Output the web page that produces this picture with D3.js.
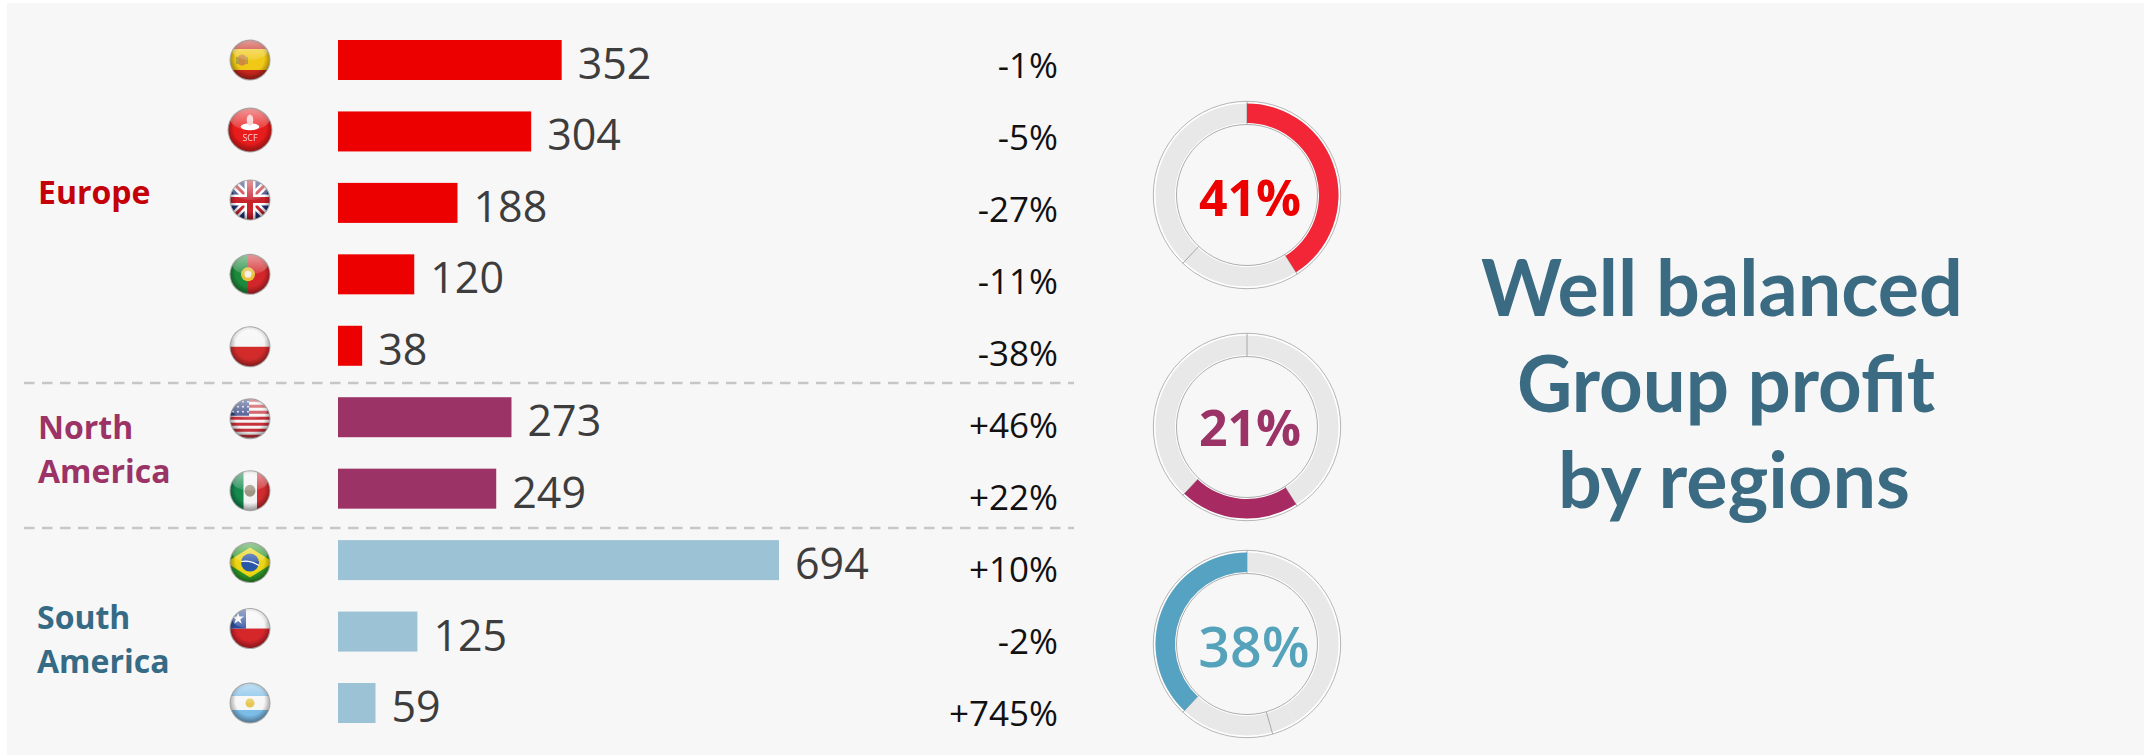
<!DOCTYPE html>
<html><head><meta charset="utf-8">
<script src="https://cdn.jsdelivr.net/npm/d3@7"></script>
<style>html,body{margin:0;padding:0;background:#fff;overflow:hidden}svg{display:block}text{font-family:"Open Sans",sans-serif}</style>
</head><body><svg id="c" width="2144" height="755"></svg>
<script>
// ---- data ----
const countries = ["Spain","SCF","UK","Portugal","Poland","USA","Mexico","Brazil","Chile","Argentina"];
const regionOf  = ["Europe","Europe","Europe","Europe","Europe","North America","North America","South America","South America","South America"];
const profits   = [352,304,188,120,38,273,249,694,125,59];
const changes   = ["-1%","-5%","-27%","-11%","-38%","+46%","+22%","+10%","-2%","+745%"];
const regions   = ["Europe","North America","South America"];
const regionShares = [41,21,38];
const titleLines = ["Well balanced","Group profit","by regions"];

// ---- styles ----
const barColor  = {"Europe":"#ec0000","North America":"#9c3366","South America":"#9cc3d5"};
const nameColor = {"Europe":"#c40008","North America":"#9c3366","South America":"#366b85"};
const arcColor  = {"Europe":"#f32638","North America":"#a82a62","South America":"#55a2c2"};
const pctColor  = {"Europe":"#ec0000","North America":"#9c3366","South America":"#55a3bb"};

const svg = d3.select("#c");
const defs = svg.append("defs");
svg.append("rect").attr("x",7).attr("y",3).attr("width",2137).attr("height",752).attr("fill","#f7f7f7");

const x = d3.scaleLinear().domain([0,694]).range([338,779]);
const y = d3.scaleBand().domain(countries).range([40,723]).paddingInner(0.44).paddingOuter(0);
const yChange = d3.scalePoint().domain(countries).range([78,726]);
const flagNudge = [0,-1.5,-3,0,1,1.5,2,2.5,-3,0];

// bars
svg.append("g").selectAll("rect").data(countries).join("rect")
  .attr("x",x(0)).attr("y",d=>y(d)).attr("height",y.bandwidth())
  .attr("width",(d,i)=>x(profits[i])-x(0)).attr("fill",(d,i)=>barColor[regionOf[i]]);
// value labels
svg.append("g").selectAll("text").data(countries).join("text")
  .attr("x",(d,i)=>x(profits[i])+16).attr("y",d=>y(d)+y.bandwidth()-1)
  .attr("font-size",43).attr("fill","#3d3d3d").text((d,i)=>profits[i]);
// change labels
svg.append("g").selectAll("text").data(countries).join("text")
  .attr("x",1058).attr("y",d=>yChange(d)).attr("text-anchor","end")
  .attr("font-size",35).attr("fill","#111").text((d,i)=>changes[i]);

// dashed separators
const sepAfter = ["Poland","Mexico"];
const sepY = [383,528];
svg.append("g").selectAll("line").data(sepAfter).join("line")
  .attr("x1",24).attr("x2",1074).attr("y1",(d,i)=>sepY[i]).attr("y2",(d,i)=>sepY[i])
  .attr("stroke","#c6c6c6").attr("stroke-width",2.6).attr("stroke-dasharray","10.5 7.5");

// region names
const nameLines = [[["Europe",38,204]],[["North",38,439],["America",38,483]],[["South",37,629],["America",37,673]]];
regions.forEach((r,i)=>nameLines[i].forEach(l=>{
  svg.append("text").attr("x",l[1]).attr("y",l[2]).attr("font-size",32).attr("font-weight",700)
    .attr("fill",nameColor[r]).text(l[0]);
}));

// rings
const pie = d3.pie().sort(null).value(d=>d);
const slices = pie(regionShares);
const ringY = [195,427,644];
const arcBand = d3.arc().innerRadius(72).outerRadius(91.5);
const pctBase = [216,446,667], pctSize=[50,50,55.5], pctWeight=[700,700,600];
const ringBreakShift = [[0,0,0],[0,0,0],[0,16.5,0]]; // degrees; third ring's lower break sits further round
regions.forEach((r,i)=>{
  const g = svg.append("g").attr("transform",`translate(1247,${ringY[i]})`);
  g.append("circle").attr("r",82).attr("fill","none").attr("stroke","#fff").attr("stroke-width",23);
  g.selectAll("path.bg").data(slices).join("path").attr("class","bg").attr("d",arcBand).attr("fill","#e8e8e8");
  g.append("circle").attr("r",93.7).attr("fill","none").attr("stroke","#b5b5b5").attr("stroke-width",1);
  g.append("circle").attr("r",70.5).attr("fill","none").attr("stroke","#adadad").attr("stroke-width",1);
  g.selectAll("line").data(slices).join("line")
    .each(function(d,k){
      const a = d.startAngle + ringBreakShift[i][k]*Math.PI/180;
      d3.select(this).attr("x1",70.5*Math.sin(a)).attr("y1",-70.5*Math.cos(a))
        .attr("x2",93.7*Math.sin(a)).attr("y2",-93.7*Math.cos(a));
    })
    .attr("stroke","#a8a8a8").attr("stroke-width",1);
  g.append("path").datum(slices[i]).attr("d",arcBand).attr("fill",arcColor[r]);
  g.append("text").attr("x",0).attr("y",pctBase[i]-ringY[i]).attr("text-anchor","middle")
    .attr("dx",i==2?7:3)
    .attr("font-size",pctSize[i]).attr("font-weight",pctWeight[i]).attr("fill",pctColor[r]).text(regionShares[i]+"%");
});

// title
const titleBase=[316,412,507.5], titleCx=[1722,1726,1734], titleW=[482,418,352];
svg.append("g").selectAll("text").data(titleLines).join("text")
  .attr("x",(d,i)=>titleCx[i]).attr("y",(d,i)=>titleBase[i]).attr("text-anchor","middle")
  .attr("textLength",(d,i)=>titleW[i]).attr("lengthAdjust","spacingAndGlyphs")
  .style("font-family","Lato, sans-serif").attr("font-weight",700).attr("font-size",78).attr("fill","#3a6b82").text(d=>d);

// flags
const gloss = defs.append("radialGradient").attr("id","edge").attr("cx","50%").attr("cy","45%").attr("r","55%");
gloss.append("stop").attr("offset","0.65").attr("stop-color","#000").attr("stop-opacity",0);
gloss.append("stop").attr("offset","1").attr("stop-color","#000").attr("stop-opacity",0.4);
const shine = defs.append("linearGradient").attr("id","shine").attr("x1",0).attr("y1",0).attr("x2",0).attr("y2",1);
shine.append("stop").attr("offset","0").attr("stop-color","#fff").attr("stop-opacity",0.55);
shine.append("stop").attr("offset","1").attr("stop-color","#fff").attr("stop-opacity",0.12);
defs.append("clipPath").attr("id","disc").append("circle").attr("r",19.5);
defs.append("filter").attr("id","soft").append("feGaussianBlur").attr("stdDeviation",0.45);

const R=(g,x0,y0,w,h,f)=>g.append("rect").attr("x",x0).attr("y",y0).attr("width",w).attr("height",h).attr("fill",f);
const L=(g,a,b,c,d,s,w)=>g.append("line").attr("x1",a).attr("y1",b).attr("x2",c).attr("y2",d).attr("stroke",s).attr("stroke-width",w);
const draw = {
  Spain:g=>{R(g,-22,-22,44,44,"#f0c814");R(g,-22,-22,44,11,"#c8261e");R(g,-22,10,44,12,"#c8261e");
    g.append("ellipse").attr("cx",-8).attr("cy",0).attr("rx",5).attr("ry",5.5).attr("fill","#c9794a").attr("opacity",.8);
    R(g,-14,-3,3,7,"#b8a040");R(g,-5,-3,3,7,"#b8a040");},
  SCF:g=>{R(g,-23,-23,46,46,"#e81c1c");
    g.append("ellipse").attr("cy",-3).attr("rx",8.5).attr("ry",3.2).attr("fill","#fff");
    g.append("ellipse").attr("cy",-9).attr("rx",3).attr("ry",5).attr("fill","#f7c9c9");
    g.append("text").attr("y",10).attr("text-anchor","middle").attr("font-size",8).attr("fill","#fbd3d3").text("SCF");},
  UK:g=>{R(g,-22,-22,44,44,"#1f2f78");
    L(g,-22,-22,22,22,"#fff",8);L(g,22,-22,-22,22,"#fff",8);L(g,-22,-22,22,22,"#c8202c",3);L(g,22,-22,-22,22,"#c8202c",3);
    L(g,0,-22,0,22,"#fff",11);L(g,-22,0,22,0,"#fff",11);L(g,0,-22,0,22,"#c8202c",6);L(g,-22,0,22,0,"#c8202c",6);},
  Portugal:g=>{R(g,-22,-22,44,44,"#d2262a");R(g,-22,-22,20,44,"#1c8a3a");
    g.append("circle").attr("cx",-2).attr("r",7).attr("fill","#e8c23a");g.append("circle").attr("cx",-2).attr("r",3.5).attr("fill","#f4efe8");},
  Poland:g=>{R(g,-22,-22,44,44,"#f4f4f4");R(g,-22,0,44,22,"#d32c2c");},
  USA:g=>{R(g,-22,-22,44,44,"#f4f4f4");d3.range(7).forEach(i=>R(g,-22,-20+i*6,44,3,"#c8303a"));
    R(g,-22,-22,21,19,"#2e3f80");
    d3.range(3).forEach(a=>d3.range(4).forEach(b=>g.append("circle").attr("cx",-17+b*5).attr("cy",-17+a*5).attr("r",.9).attr("fill","#fff")));},
  Mexico:g=>{R(g,-22,-22,44,44,"#f3f3f3");R(g,-22,-22,15.5,44,"#14894e");R(g,7,-22,15,44,"#d22b2f");
    g.append("ellipse").attr("rx",5.5).attr("ry",6).attr("fill","#9e9684");},
  Brazil:g=>{R(g,-22,-22,44,44,"#2f9a2a");
    g.append("polygon").attr("points","-24,0 0,-15 24,0 0,15").attr("fill","#ecd412");
    g.append("circle").attr("r",9).attr("fill","#2a56a8");
    g.append("path").attr("d","M-9,-1Q0,-3 9,3").attr("stroke","#fff").attr("stroke-width",1.2).attr("fill","none");},
  Chile:g=>{R(g,-22,-22,44,44,"#f5f5f5");R(g,-22,0,44,22,"#d5262c");R(g,-22,-22,18,22,"#2c4f9e");
    g.append("path").attr("d",d3.symbol(d3.symbolStar,45)()).attr("transform","translate(-12,-10)").attr("fill","#fff");},
  Argentina:g=>{R(g,-22,-22,44,44,"#f6f6f6");R(g,-22,-22,44,15,"#7cbde8");R(g,-22,7,44,15,"#7cbde8");
    g.append("circle").attr("r",4.5).attr("fill","#e8c650");}
};
countries.forEach((c,i)=>{
  const g = svg.append("g").attr("transform",`translate(250,${y(c)+y.bandwidth()/2+flagNudge[i]})`);
  const r = c==="SCF"?22:20;
  g.append("circle").attr("r",r+.5).attr("fill","#8a8a8a").attr("opacity",.75);
  const f = g.append("g").attr("clip-path","url(#disc)").attr("transform",c==="SCF"?"scale(1.1)":null).attr("filter","url(#soft)");
  draw[c](f);
  f.append("circle").attr("r",20).attr("fill","url(#edge)");
  f.append("ellipse").attr("cy",-10).attr("rx",18).attr("ry",10).attr("fill","url(#shine)");
});
</script></body></html>
